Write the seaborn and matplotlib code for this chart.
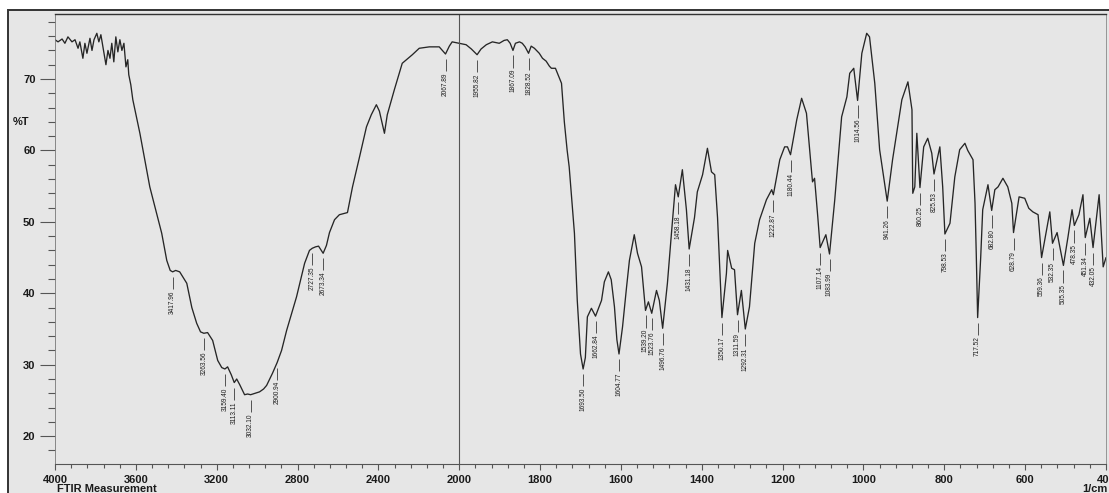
import numpy as np
import pandas as pd
import matplotlib
matplotlib.use("Agg")
import matplotlib.pyplot as plt
from matplotlib.patches import Rectangle
from matplotlib.ticker import FixedLocator, FuncFormatter
import matplotlib.transforms as mtransforms
import seaborn as sns

# %T trace between the labelled bands (wavenumber in 1/cm, transmittance in %)
trace_wn = [4000, 3985, 3965, 3951, 3936, 3916, 3901, 3886, 3877, 3862, 3852, 3842,
            3827, 3817, 3807, 3793, 3783, 3773, 3763, 3748, 3738, 3728, 3719, 3709,
            3699, 3689, 3679, 3669, 3659, 3649, 3640, 3635, 3625, 3615, 3580, 3531,
            3472, 3447, 3430, 3403, 3383, 3348, 3323, 3299, 3280, 3245, 3220, 3195,
            3175, 3146, 3128, 3101, 3086, 3062, 3047, 3010, 2988, 2968, 2953, 2924,
            2879, 2854, 2805, 2765, 2741, 2711, 2696, 2657, 2642, 2617, 2593, 2553,
            2528, 2494, 2459, 2435, 2410, 2395, 2370, 2356, 2321, 2282, 2232, 2198,
            2148, 2099, 2049, 2035, 2000, 1983, 1970, 1946, 1933, 1918, 1901, 1889,
            1881, 1874, 1861, 1851, 1844, 1837, 1822, 1814, 1802, 1794, 1785, 1777,
            1772, 1762, 1755, 1747, 1740, 1733, 1728, 1715, 1708, 1700, 1688, 1683,
            1673, 1648, 1641, 1631, 1624, 1616, 1610, 1596, 1586, 1579, 1567, 1559,
            1549, 1532, 1512, 1505, 1485, 1475, 1465, 1448, 1438, 1418, 1411, 1398,
            1386, 1376, 1368, 1361, 1339, 1336, 1326, 1319, 1302, 1282, 1269, 1257,
            1240, 1227, 1207, 1195, 1188, 1165, 1153, 1141, 1128, 1126, 1121, 1113,
            1093, 1071, 1054, 1041, 1034, 1024, 1004, 992, 985, 972, 960, 928, 905,
            890, 880, 878, 873, 868, 851, 841, 831, 811, 804, 786, 774, 762, 749,
            742, 729, 724, 721, 710, 705, 692, 675, 667, 655, 643, 633, 615, 601,
            591, 581, 568, 539, 521, 494, 484, 467, 457, 440, 417, 407, 400]
trace_t = [75.5, 75.2, 75.6, 75.0, 75.9, 75.2, 75.5, 74.3, 75.2, 72.9, 75.0, 73.6,
           75.7, 74.0, 75.5, 76.4, 75.2, 76.2, 74.5, 72.0, 74.0, 72.9, 75.0, 72.4,
           75.9, 73.8, 75.5, 74.0, 75.0, 71.7, 72.7, 70.6, 69.2, 67.1, 62.4, 54.9,
           48.4, 44.6, 43.2, 43.2, 43.0, 41.4, 38.0, 35.8, 34.6, 34.5, 33.4, 30.6,
           29.6, 29.7, 28.6, 28.0, 27.2, 25.8, 25.9, 26.0, 26.2, 26.6, 27.1, 28.8,
           32.0, 34.8, 39.5, 44.2, 46.0, 46.5, 46.6, 46.7, 48.5, 50.3, 51.0, 51.3,
           54.9, 59.0, 63.3, 65.0, 66.4, 65.5, 62.4, 65.0, 68.5, 72.2, 73.4, 74.3,
           74.5, 74.5, 74.6, 75.2, 75.0, 74.8, 74.2, 74.2, 74.8, 75.2, 75.0, 75.4,
           75.5, 75.0, 75.0, 75.2, 75.0, 74.5, 74.6, 74.3, 73.6, 72.9, 72.5, 71.8,
           71.5, 71.5, 70.5, 69.4, 64.0, 60.0, 57.7, 48.4, 39.0, 31.5, 31.0, 36.7,
           37.9, 39.0, 41.6, 43.0, 41.9, 38.1, 33.5, 35.3, 40.9, 44.6, 48.2, 45.6,
           43.7, 38.8, 40.4, 39.0, 41.4, 48.4, 55.2, 57.3, 51.7, 50.6, 54.2, 56.6,
           60.3, 57.0, 56.6, 50.6, 42.8, 46.0, 43.5, 43.3, 40.4, 38.1, 47.0, 50.3,
           53.1, 54.5, 58.7, 60.5, 60.5, 64.3, 67.3, 65.2, 56.8, 55.6, 56.1, 50.7,
           48.2, 53.1, 64.7, 67.5, 70.8, 71.5, 73.6, 76.4, 75.9, 69.4, 60.1, 58.7, 67.1,
           69.6, 65.7, 54.0, 54.9, 62.4, 60.5, 61.7, 59.6, 60.5, 54.9, 49.8, 56.3, 60.1, 61.0,
           60.0, 58.7, 52.6, 45.6, 45.0, 51.7, 55.2, 54.5, 54.9, 56.1, 54.9, 52.6, 53.5, 53.3,
           51.9, 51.4, 51.0, 51.4, 48.5, 47.9, 51.7, 51.0, 53.8, 50.5, 53.8, 43.7, 45.0]

# labelled absorption bands
band_wn = [3417.96, 3263.56, 3159.40, 3113.11, 3032.10, 2900.94, 2727.35, 2673.34,
           2067.89, 1955.82, 1867.09, 1828.52, 1693.50, 1662.84, 1604.77, 1539.20,
           1523.76, 1496.76, 1458.18, 1431.18, 1350.17, 1311.59, 1292.31, 1222.87,
           1180.44, 1107.14, 1083.99, 1014.56, 941.26, 860.25, 825.53, 798.53,
           717.52, 682.80, 628.79, 559.36, 532.35, 505.35, 478.35, 451.34, 432.05]
band_t = [43.0, 34.4, 29.4, 27.5, 25.8, 30.3, 46.3, 45.6,
          73.5, 73.4, 74.0, 73.6, 29.4, 36.8, 31.5, 37.6,
          37.2, 35.1, 53.5, 46.2, 36.6, 37.0, 35.0, 53.8,
          59.4, 46.4, 45.5, 67.0, 52.9, 54.8, 56.7, 48.3,
          36.6, 51.6, 48.5, 45.0, 47.0, 43.9, 49.5, 47.8, 46.4]

x_major = [4000, 3600, 3200, 2800, 2400, 2000, 1800, 1600, 1400, 1200, 1000, 800, 600, 400]
y_major = [20, 30, 40, 50, 60, 70]

spectrum = pd.DataFrame({
    "wn": np.concatenate([trace_wn, band_wn]),
    "T": np.concatenate([trace_t, band_t]),
}).sort_values("wn")

sns.set_theme(style="white")
plt.rcParams["font.family"] = ["Liberation Sans", "DejaVu Sans"]

W, H = 1109, 493
fig = plt.figure(figsize=(W / 100, H / 100), dpi=100, facecolor="white")

# printed sheet behind the chart
fig.patches.append(Rectangle((8 / W, -0.1), 1.0, (H - 10) / H + 0.1,
                             transform=fig.transFigure, facecolor="#e6e6e6",
                             edgecolor="#333333", lw=1.4, zorder=-10))

ax = fig.add_axes([55 / W, 29 / H, 1051 / W, 450 / H])
ax.set_zorder(5)
ax.set_facecolor("none")


# the 4000-2000 range is printed at half the scale of 2000-400
def fwd(x):
    x = np.asarray(x, dtype=float)
    return np.where(x >= 2000, 2000 + (x - 2000) / 2.0, x)


def inv(u):
    u = np.asarray(u, dtype=float)
    return np.where(u >= 2000, 2000 + (u - 2000) * 2.0, u)


ax.set_xscale("function", functions=(fwd, inv))

sns.lineplot(data=spectrum, x="wn", y="T", ax=ax, color="#262626", lw=0.95,
             estimator=None, sort=True)

ax.set_xlim(4000, 400)
ax.set_ylim(16.1, 79.1)
ax.set_xlabel("")
ax.set_ylabel("")

x_minor = [v for v in list(range(4000, 2000, -80)) + list(range(2000, 400, -40))
           if v not in x_major]
ax.xaxis.set_major_locator(FixedLocator(x_major))
ax.xaxis.set_minor_locator(FixedLocator(x_minor))
ax.xaxis.set_major_formatter(FuncFormatter(lambda v, p: f"{v:.0f}"))
ax.yaxis.set_major_locator(FixedLocator(y_major))
ax.yaxis.set_minor_locator(FixedLocator([v for v in range(16, 80, 2) if v not in y_major]))
ax.yaxis.set_major_formatter(FuncFormatter(lambda v, p: f"{v:.0f}"))

ax.tick_params(axis="y", which="major", direction="out", length=10.5, width=0.8,
               color="#555555", pad=3.5, labelsize=8, labelcolor="#1a1a1a", left=True)
ax.tick_params(axis="y", which="minor", direction="out", length=5, width=0.8,
               color="#555555", left=True)
ax.tick_params(axis="x", which="major", direction="out", length=4.5, width=0.8,
               color="#555555", pad=3.5, labelsize=8, labelcolor="#1a1a1a", bottom=True)
ax.tick_params(axis="x", which="minor", direction="out", length=3, width=0.8,
               color="#555555", bottom=True)
for lbl in ax.get_xticklabels() + ax.get_yticklabels():
    lbl.set_fontweight("bold")

for side, col, lw in [("top", "#333333", 1.0), ("bottom", "#555555", 0.8),
                      ("left", "#777777", 0.6), ("right", "#888888", 0.6)]:
    ax.spines[side].set_visible(True)
    ax.spines[side].set_color(col)
    ax.spines[side].set_linewidth(lw)

ax.axvline(2000, color="#555555", lw=0.8)

# band markers: short tick under each band with its wavenumber
for w, t in zip(band_wn, band_t):
    ax.vlines(w, t - 2.4, t - 0.7, color="#3a3a3a", lw=0.6)
    ax.text(w, t - 2.6, f"{w:.2f}", rotation=90, ha="center", va="top",
            fontsize=4.7, color="#1e1e1e", family=["Liberation Sans", "DejaVu Sans"])

trans = mtransforms.blended_transform_factory(ax.transAxes, ax.transData)
ax.text(-0.032, 64, "%T", transform=trans, ha="center", va="center",
        fontsize=8, fontweight="bold", color="#1a1a1a")

fig.text(57 / W, 4.5 / H, "FTIR Measurement", ha="left", va="center",
         fontsize=8, fontweight="bold", color="#1a1a1a")
fig.text(1108 / W, 4.5 / H, "1/cm", ha="right", va="center",
         fontsize=8, fontweight="bold", color="#1a1a1a")

fig.savefig("out.png", dpi=100, facecolor=fig.get_facecolor())
